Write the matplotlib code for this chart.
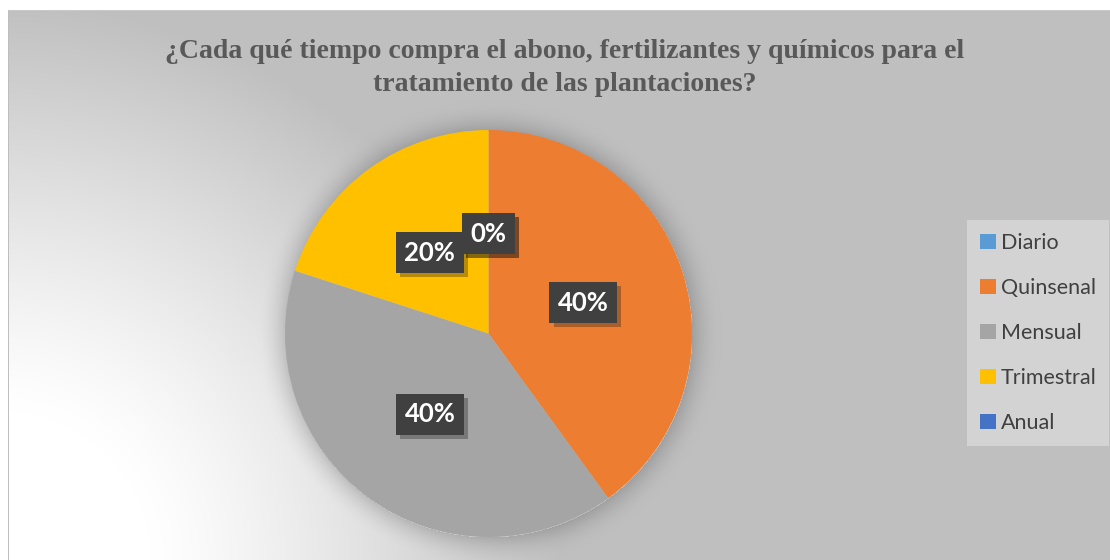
import numpy as np
import matplotlib
matplotlib.use('Agg')
import matplotlib.pyplot as plt
import matplotlib.patheffects as pe
from matplotlib.patches import Rectangle

# datos de la encuesta
categorias = ['Diario', 'Quinsenal', 'Mensual', 'Trimestral', 'Anual']
porcentajes = [0, 40, 40, 20, 0]
colores = ['#5b9bd5', '#ed7d31', '#a5a5a5', '#ffc000', '#4472c4']
titulo = ('¿Cada qué tiempo compra el abono, fertilizantes y químicos para el\n'
          'tratamiento de las plantaciones?')

W, H = 1110, 560
fig = plt.figure(figsize=(W / 100, H / 100), dpi=100)

# fondo: degradado radial desde la esquina inferior izquierda + sombra del pastel
cx, cy, R = 488.5, 333.5, 203.5
yy, xx = np.mgrid[0:H, 0:W].astype(float)
d = np.hypot(xx, yy - H)
f = np.clip((d - 150) / 410, 0, 1)
val = 255 - 64 * f ** 1.2
ds = np.hypot(xx - cx, yy - cy) - R
sh = np.where((ds > 0) & (ds < 30), 0.16 * (1 - ds / 30) ** 2, 0)
val = val * (1 - sh)
val[(xx < 8) | (yy < 11)] = 255
val[10, 8:] = 200
val[10:, 8] = 190
bg = fig.add_axes([0, 0, 1, 1])
bg.imshow(np.dstack([val] * 3).astype(np.uint8), extent=[0, 1, 0, 1],
          aspect='auto', interpolation='bilinear')
bg.set_axis_off()

# caja de la leyenda
fig.patches.append(Rectangle((967 / W, 1 - 446 / H), 142 / W, 226 / H,
                             transform=fig.transFigure, fc='#d3d3d3', ec='none',
                             zorder=1))

ax = fig.add_axes([(cx - R) / W, (H - cy - R) / H, 2 * R / W, 2 * R / H])
ax.set_facecolor('none')
wedges, _, autotexts = ax.pie(
    porcentajes, colors=colores, startangle=90, counterclock=False,
    autopct='%1.0f%%', pctdistance=0.49, radius=1,
    wedgeprops=dict(linewidth=0),
    textprops=dict(color='white', fontsize=18.5, fontweight='bold', family='Lato'))
ax.set_xlim(-1, 1)
ax.set_ylim(-1, 1)

for t in autotexts:
    t.set_bbox(dict(boxstyle='square,pad=0.33', fc='#404040', ec='none'))
    t.set_zorder(5)
    t.get_bbox_patch().set_path_effects(
        [pe.SimplePatchShadow(offset=(3, -3), alpha=0.3), pe.Normal()])

fig.text(565 / W, 1 - 68 / H, titulo, ha='center', va='center', fontsize=20,
         family='Liberation Serif', fontweight='bold', color='#595959',
         linespacing=1.4)

leg = fig.legend(wedges, categorias, loc='upper left',
                 bbox_to_anchor=(980 / W, 1 - 233 / H), frameon=False,
                 prop=dict(family='Lato', size=15.5), labelcolor='#404040',
                 handlelength=0.72, handleheight=0.72, handletextpad=0.25,
                 labelspacing=1.16, borderpad=0, borderaxespad=0)

fig.savefig('out.png', dpi=100)
